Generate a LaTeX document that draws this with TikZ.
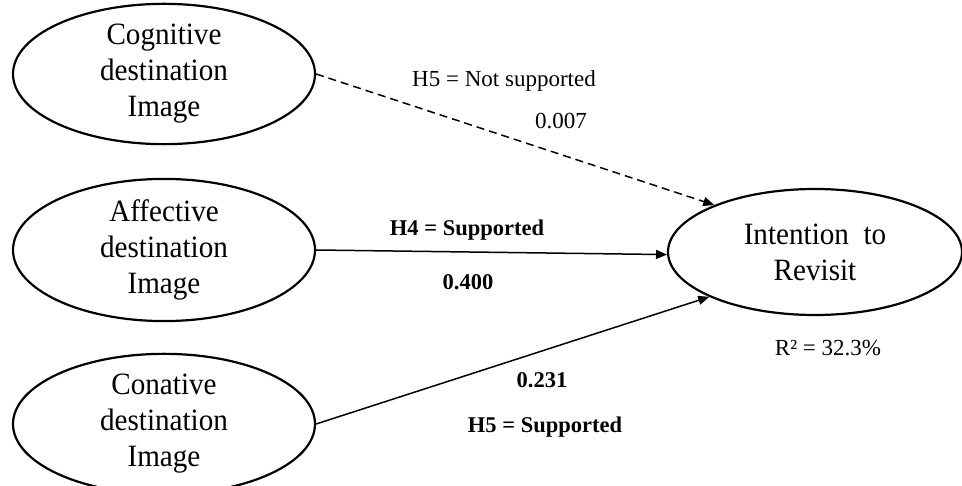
\documentclass[tikz,border=0pt]{standalone}
\usepackage{fontspec}
\setmainfont{Liberation Serif}
\newfontfamily\constructfont[FakeStretch=0.94]{Liberation Serif}
\usetikzlibrary{shapes.geometric,arrows.meta}
\begin{document}
\begin{tikzpicture}[x=1pt,y=-1pt,
  construct/.style={ellipse,draw,line width=2.2pt,inner sep=0pt,
    minimum width=302pt,minimum height=124pt,align=center,
    font=\constructfont\fontsize{31}{36}\selectfont},
  path/.style={line width=1.5pt,-{Triangle[length=11pt,width=9pt]}},
  lbl/.style={font=\fontsize{23}{27}\selectfont,anchor=base},
  blbl/.style={font=\fontsize{22.5}{27}\selectfont\bfseries,anchor=base}]
\useasboundingbox (0,0) rectangle (962,486);

% latent constructs
\node[construct] (cog) at (164,74) {Cognitive\\destination\\Image};
\node[construct] (aff) at (164,250) {Affective\\destination\\Image};
\node[construct] (con) at (164,424) {Conative\\destination\\Image};
\node[construct,minimum width=294pt,minimum height=126pt] (int) at (815,252) {Intention\ \ to\\Revisit};

% structural paths
\draw[path,dash pattern=on 8pt off 5pt] (cog.east) -- (int.155);
\draw[path] (aff.east) -- (int.181);
\draw[path] (con.east) -- (int.203);

% path labels
\node[lbl] (l1) at (504,87) {H5 = Not supported};
\node[lbl] (l2) at (561,129) {0.007};
\node[blbl] (l3) at (467,236) {H4 = Supported};
\node[blbl] (l4) at (468,290) {0.400};
\node[blbl] (l5) at (542,388) {0.231};
\node[blbl] (l6) at (545,433) {H5 = Supported};
\node[lbl] (r2) at (828,356) {R² = 32.3\%};
\end{tikzpicture}
\end{document}
